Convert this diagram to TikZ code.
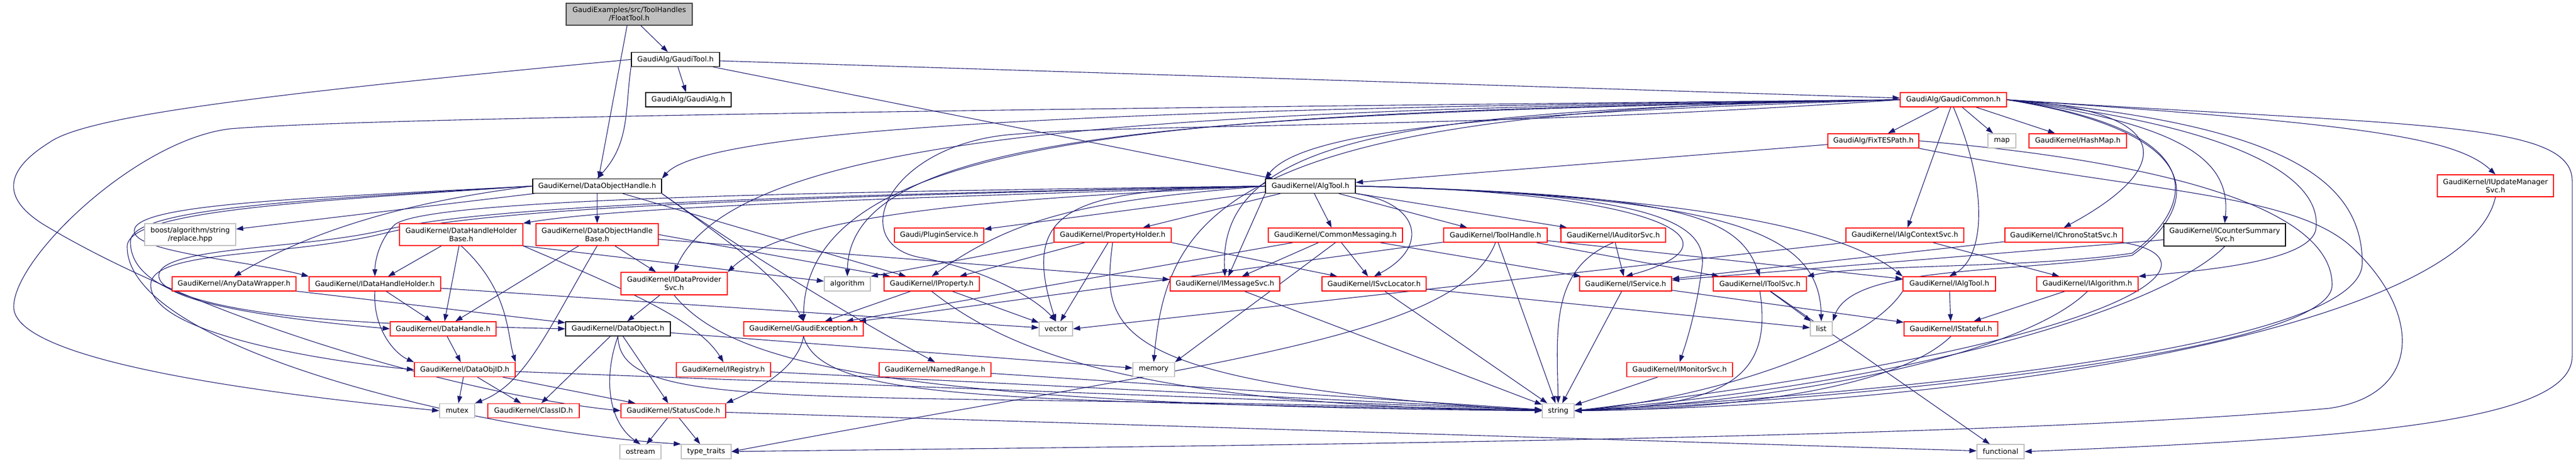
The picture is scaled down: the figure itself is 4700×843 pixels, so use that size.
\documentclass[tikz,border=0pt]{standalone}
\usepackage{fontspec}
\setmainfont{DejaVu Sans}
\usetikzlibrary{arrows.meta}
\definecolor{dxblue}{HTML}{191970}
\definecolor{dxred}{HTML}{FF0000}
\definecolor{dxgray}{HTML}{BFBFBF}
\definecolor{dxdark}{HTML}{404040}
\pgfdeclarelayer{bg}
\pgfsetlayers{bg,main}

\begin{document}
\begin{tikzpicture}[x=1pt, y=-1pt,
  box/.style={draw, fill=white, line width=1.4pt, inner sep=0pt, align=center,
    minimum height=26pt, font=\fontsize{13}{15}\selectfont},
  redbox/.style={box, draw=dxred},
  blkbox/.style={box, draw=black},
  sysbox/.style={box, draw=dxgray},
  inc/.style={dxblue, line width=1.1pt, -{Triangle[length=13pt, width=9pt]}}]
\useasboundingbox (0,0) rectangle (4700,843);

% row 1 - 3
\node[box, fill=dxgray, draw=dxdark, minimum width=230pt, minimum height=40pt] (float) at (1148,26) {GaudiExamples/src/ToolHandles\\/FloatTool.h};
\node[blkbox, minimum width=161pt] (gtool) at (1232.5,108.5) {GaudiAlg/GaudiTool.h};
\node[blkbox, minimum width=156pt] (galg) at (1256,182) {GaudiAlg/GaudiAlg.h};
\node[redbox, minimum width=194pt] (gcommon) at (3564,182) {GaudiAlg/GaudiCommon.h};
\node[redbox, minimum width=166pt] (fixtes) at (3418,257) {GaudiAlg/FixTESPath.h};
\node[sysbox, minimum width=51pt] (map) at (3652.5,257) {map};
\node[redbox, minimum width=178pt] (hashmap) at (3791,257) {GaudiKernel/HashMap.h};
\node[blkbox, minimum width=235pt] (dohandle) at (1089.5,339.5) {GaudiKernel/DataObjectHandle.h};
\node[blkbox, minimum width=164pt] (algtool) at (2391,339.5) {GaudiKernel/AlgTool.h};
\node[redbox, minimum width=212pt, minimum height=40pt] (iupdmgr) at (4553,339) {GaudiKernel/IUpdateManager\\Svc.h};

% row 4
\node[sysbox, minimum width=166pt, minimum height=40pt] (boostrep) at (347,428) {boost/algorithm/string\\/replace.hpp};
\node[redbox, minimum width=225pt, minimum height=40pt] (dhhbase) at (841.5,428) {GaudiKernel/DataHandleHolder\\Base.h};
\node[redbox, minimum width=223pt, minimum height=40pt] (dohbase) at (1089.5,428) {GaudiKernel/DataObjectHandle\\Base.h};
\node[redbox, minimum width=163pt] (plugin) at (1713.5,429) {Gaudi/PluginService.h};
\node[redbox, minimum width=214pt] (propholder) at (2030,429) {GaudiKernel/PropertyHolder.h};
\node[redbox, minimum width=245pt] (commsg) at (2436.5,429) {GaudiKernel/CommonMessaging.h};
\node[redbox, minimum width=189pt] (toolhandle) at (2728.5,429) {GaudiKernel/ToolHandle.h};
\node[redbox, minimum width=191pt] (iauditor) at (2943.5,429) {GaudiKernel/IAuditorSvc.h};
\node[redbox, minimum width=215pt] (ialgctx) at (3475.5,429) {GaudiKernel/IAlgContextSvc.h};
\node[redbox, minimum width=215pt] (ichrono) at (3765.5,429) {GaudiKernel/IChronoStatSvc.h};
\node[blkbox, minimum width=222pt, minimum height=41pt] (icounter) at (4059,428.5) {GaudiKernel/ICounterSummary\\Svc.h};

% row 5
\node[redbox, minimum width=226pt] (anydw) at (427,518) {GaudiKernel/AnyDataWrapper.h};
\node[redbox, minimum width=240pt] (idhh) at (684,518) {GaudiKernel/IDataHandleHolder.h};
\node[redbox, minimum width=194pt, minimum height=41pt] (idps) at (1230,517.5) {GaudiKernel/IDataProvider\\Svc.h};
\node[sysbox, minimum width=84pt] (algorithm) at (1546,518) {algorithm};
\node[redbox, minimum width=174pt] (iproperty) at (1700,518) {GaudiKernel/IProperty.h};
\node[redbox, minimum width=200pt] (imsgsvc) at (2235,518) {GaudiKernel/IMessageSvc.h};
\node[redbox, minimum width=190pt] (isvcloc) at (2507,518) {GaudiKernel/ISvcLocator.h};
\node[redbox, minimum width=168pt] (iservice) at (2966,518) {GaudiKernel/IService.h};
\node[redbox, minimum width=170pt] (itoolsvc) at (3211,518) {GaudiKernel/IToolSvc.h};
\node[redbox, minimum width=169pt] (ialgtool) at (3556.5,518) {GaudiKernel/IAlgTool.h};
\node[redbox, minimum width=185pt] (ialgorithm) at (3808.5,518) {GaudiKernel/IAlgorithm.h};

% row 6 - 9
\node[redbox, minimum width=193pt] (dhandle) at (808.5,600) {GaudiKernel/DataHandle.h};
\node[blkbox, minimum width=191pt] (dobject) at (1127.5,600) {GaudiKernel/DataObject.h};
\node[redbox, minimum width=218pt] (gexc) at (1466,600) {GaudiKernel/GaudiException.h};
\node[sysbox, minimum width=61pt] (vector) at (1926.5,600) {vector};
\node[sysbox, minimum width=40pt] (list) at (3323,600) {list};
\node[redbox, minimum width=171pt] (istateful) at (3559.5,600) {GaudiKernel/IStateful.h};
\node[redbox, minimum width=184pt] (dobjid) at (848,674.5) {GaudiKernel/DataObjID.h};
\node[redbox, minimum width=172pt] (iregistry) at (1320,674.5) {GaudiKernel/IRegistry.h};
\node[redbox, minimum width=204pt] (namedrange) at (1706,674.5) {GaudiKernel/NamedRange.h};
\node[sysbox, minimum width=76pt] (memory) at (2105,674.5) {memory};
\node[redbox, minimum width=193pt] (imonitor) at (3064.5,674.5) {GaudiKernel/IMonitorSvc.h};
\node[sysbox, minimum width=64pt] (mutex) at (834,749.5) {mutex};
\node[redbox, minimum width=167pt] (classid) at (973.5,749.5) {GaudiKernel/ClassID.h};
\node[redbox, minimum width=191pt] (statuscode) at (1228.5,749.5) {GaudiKernel/StatusCode.h};
\node[sysbox, minimum width=58pt] (string) at (2843,749.5) {string};
\node[sysbox, minimum width=75pt] (ostream) at (1168.5,824.5) {ostream};
\node[sysbox, minimum width=91pt] (typetraits) at (1288.5,824) {type\_traits};
\node[sysbox, minimum width=86pt] (functional) at (3650,824) {functional};

\begin{pgfonlayer}{bg}
\fill[white] (0,0) rectangle (4700,843);
\foreach \a/\b in {float/gtool, float/dohandle, gtool/galg, gtool/gcommon, gtool/algtool,
    gcommon/fixtes, gcommon/map, gcommon/hashmap, gcommon/ialgctx, fixtes/algtool,
    algtool/commsg, algtool/toolhandle, algtool/iauditor, algtool/propholder, algtool/plugin,
    dohandle/boostrep, dohandle/dohbase, dohandle/iproperty, dhhbase/idhh, dhhbase/dhandle,
    dohbase/dhandle, dohbase/idps, dohbase/imsgsvc, anydw/dobject, idhh/dhandle, idhh/vector,
    dhandle/dobjid, dobjid/mutex, dobjid/classid, dobjid/statuscode, dobjid/string,
    dobject/classid, dobject/statuscode, dobject/memory, idps/dobject,
    iproperty/gexc, iproperty/vector, propholder/iproperty, propholder/vector,
    commsg/imsgsvc, commsg/isvcloc, commsg/iservice, commsg/gexc,
    toolhandle/itoolsvc, toolhandle/ialgtool, toolhandle/gexc, toolhandle/string,
    iauditor/iservice, ialgctx/ialgorithm, ichrono/iservice, icounter/iservice,
    imsgsvc/string, isvcloc/string, isvcloc/list, iservice/string, iservice/istateful,
    itoolsvc/list, itoolsvc/functional, ialgtool/istateful, ialgorithm/istateful,
    imonitor/string, iregistry/string, namedrange/string,
    statuscode/ostream, statuscode/typetraits, statuscode/functional}
  \draw[inc] (\a) -- (\b);
\draw[inc] (algtool.south west) -- (imsgsvc);
\draw[inc] (dhhbase.south east) -- (algorithm);
\draw[inc] (dohbase.east) -- (iproperty);
\draw[inc] (propholder.south west) -- (algorithm.north east);
\draw[inc] (propholder.south east) -- (isvcloc);
\draw[inc] (commsg.south) -- (memory.north east);
\draw[inc] (ialgctx.south west) -- (vector.east);

% GaudiTool and GaudiCommon
\draw[inc] (gtool.south west) .. controls (1140,200) and (1150,260) .. (dohandle.north);
\draw[inc] (gtool.west) .. controls (500,170) and (160,210) .. (90,260) .. controls (10,310) and (0,360) .. (80,410) .. controls (380,590) and (850,720) .. (statuscode.west);
\draw[inc] (gcommon.west) .. controls (2200,195) and (700,212) .. (420,235) .. controls (250,255) and (25,470) .. (25,560) .. controls (25,650) and (400,710) .. (mutex.west);
\draw[inc] (gcommon.west) .. controls (2300,195) and (1300,220) .. (dohandle.north east);
\draw[inc] (gcommon.west) .. controls (2200,200) and (1350,230) .. (idps.north);
\draw[inc] (gcommon.west) .. controls (2200,205) and (1470,230) .. (gexc.north);
\draw[inc] (gcommon.west) .. controls (2200,208) and (1550,235) .. (algorithm.north);
\draw[inc] (gcommon.west) .. controls (2700,235) and (2100,225) .. (1850,245) .. controls (1620,262) and (1540,445) .. (1680,470) .. controls (1800,492) and (1890,545) .. (vector.north);
\draw[inc] (gcommon.west) .. controls (2600,200) and (2220,240) .. (imsgsvc.north);
\draw[inc] (gcommon.west) .. controls (2250,195) and (2130,380) .. (memory.north);
\draw[inc] (gcommon.west) .. controls (2750,205) and (2380,235) .. (algtool.north west);
\draw[inc] (gcommon.east) .. controls (3960,200) and (3980,300) .. (ichrono.north);
\draw[inc] (gcommon.east) .. controls (4000,228) and (4070,300) .. (icounter.north);
\draw[inc] (gcommon.east) .. controls (4300,225) and (4480,250) .. (iupdmgr.north);
\draw[inc] (gcommon.east) .. controls (4400,230) and (4693,220) .. (4693,330) -- (4693,650) .. controls (4693,770) and (4300,800) .. (functional.east);
\draw[inc] (gcommon.east) .. controls (4100,232) and (4240,330) .. (4225,420) .. controls (4210,480) and (4000,495) .. (ialgorithm.north east);
\draw[inc] (gcommon.south) .. controls (3630,350) and (3620,470) .. (ialgtool.north);
\draw[inc] (gcommon.east) .. controls (4050,240) and (4000,380) .. (3890,462) .. controls (3700,490) and (3400,482) .. (itoolsvc.north east);
\draw[inc] (gcommon.east) .. controls (4050,245) and (4005,385) .. (3890,466) .. controls (3650,500) and (3380,485) .. (list.north east);
\draw[inc] (gcommon.east) .. controls (4150,225) and (4310,320) .. (4310,480) .. controls (4310,650) and (3300,725) .. (string.east);
\draw[inc] (fixtes.east) .. controls (3950,295) and (4255,380) .. (4255,520) .. controls (4255,650) and (3300,735) .. (string.east);
\draw[inc] (fixtes.south east) .. controls (3900,350) and (4180,350) .. (4290,450) .. controls (4420,570) and (4420,720) .. (4250,745) .. controls (3600,805) and (2000,815) .. (typetraits.east);

% AlgTool
\draw[inc] (algtool.south east) .. controls (2590,370) and (2610,450) .. (isvcloc.north);
\draw[inc] (algtool.east) .. controls (3020,350) and (3200,440) .. (iservice.north);
\draw[inc] (algtool.east) .. controls (3000,352) and (3120,400) .. (3105,490) .. controls (3095,570) and (3075,630) .. (imonitor.north);
\draw[inc] (algtool.east) .. controls (3050,355) and (3170,390) .. (itoolsvc.north);
\draw[inc] (algtool.east) .. controls (3150,360) and (3320,420) .. (list.north);
\draw[inc] (algtool.east) .. controls (3200,360) and (3390,440) .. (ialgtool.north west);
\draw[inc] (algtool.west) .. controls (2000,365) and (1860,390) .. (iproperty.north);
\draw[inc] (algtool.west) .. controls (1950,345) and (1860,380) .. (vector.north);
\draw[inc] (algtool.west) .. controls (1900,360) and (1450,380) .. (idps.north east);
\draw[inc] (algtool.west) .. controls (1700,360) and (1150,375) .. (dhhbase.north east);
\draw[inc] (algtool.west) .. controls (1500,350) and (780,362) .. (720,410) .. controls (690,440) and (684,480) .. (idhh.north);
\draw[inc] (algtool.west) .. controls (1500,356) and (900,372) .. (700,420) .. controls (550,455) and (300,450) .. (290,500) .. controls (280,560) and (600,590) .. (dhandle.west);
\draw[inc] (algtool.west) .. controls (1500,358) and (900,376) .. (700,426) .. controls (520,470) and (275,455) .. (275,520) .. controls (275,610) and (600,660) .. (dobjid.west);

% DataObjectHandle
\draw[inc] (dohandle.west) .. controls (850,355) and (620,390) .. (anydw.north);
\draw[inc] (dohandle.west) .. controls (550,362) and (250,372) .. (245,420) .. controls (240,460) and (450,475) .. (idhh.north west);
\draw[inc] (dohandle.west) .. controls (550,365) and (240,380) .. (238,440) .. controls (236,580) and (600,590) .. (dobject.west);
\draw[inc] (dohandle.west) .. controls (550,368) and (232,385) .. (232,450) .. controls (232,640) and (900,790) .. (typetraits.north west);
\draw[inc] (dohandle.south east) .. controls (1300,420) and (1420,500) .. (gexc.north);
\draw[inc] (dohandle.south east) .. controls (1330,440) and (1520,560) .. (namedrange.north);

% lower levels
\draw[inc] (dhhbase.south) .. controls (930,530) and (925,610) .. (dobjid.north east);
\draw[inc] (dhhbase.south east) .. controls (1120,520) and (1270,580) .. (iregistry.north);
\draw[inc] (idhh.south) .. controls (680,600) and (720,645) .. (dobjid.north west);
\draw[inc] (dohbase.south) .. controls (1000,600) and (960,700) .. (mutex.north east);
\draw[inc] (dobject.south) .. controls (1100,690) and (1110,770) .. (ostream.north);
\draw[inc] (dobject.south) .. controls (1130,760) and (1500,710) .. (string.west);
\draw[inc] (idps.south) .. controls (1330,660) and (1600,740) .. (string.west);
\draw[inc] (gexc.south) .. controls (1455,680) and (1360,720) .. (statuscode.north east);
\draw[inc] (gexc.south) .. controls (1500,730) and (1800,730) .. (string.west);
\draw[inc] (iproperty.south) .. controls (1850,650) and (2100,740) .. (string.west);
\draw[inc] (propholder.south) .. controls (2010,600) and (2010,700) .. (string.west);
\draw[inc] (toolhandle.south) .. controls (2660,620) and (2200,660) .. (typetraits.east);
\draw[inc] (iauditor.south) .. controls (2830,490) and (2840,600) .. (string.north);
\draw[inc] (itoolsvc.south) .. controls (3235,690) and (3150,740) .. (string.east);
\draw[inc] (ialgtool.south west) .. controls (3400,640) and (3100,730) .. (string.east);
\draw[inc] (istateful.south) .. controls (3450,720) and (3100,748) .. (string.east);
\draw[inc] (ialgorithm.south) .. controls (3700,640) and (3300,730) .. (string.east);
\draw[inc] (ichrono.south east) .. controls (4050,470) and (3950,620) .. (string.east);
\draw[inc] (icounter.south) .. controls (3950,560) and (3500,700) .. (string.east);
\draw[inc] (iupdmgr.south) .. controls (4500,600) and (3600,740) .. (string.east);
\end{pgfonlayer}
\end{tikzpicture}
\end{document}
